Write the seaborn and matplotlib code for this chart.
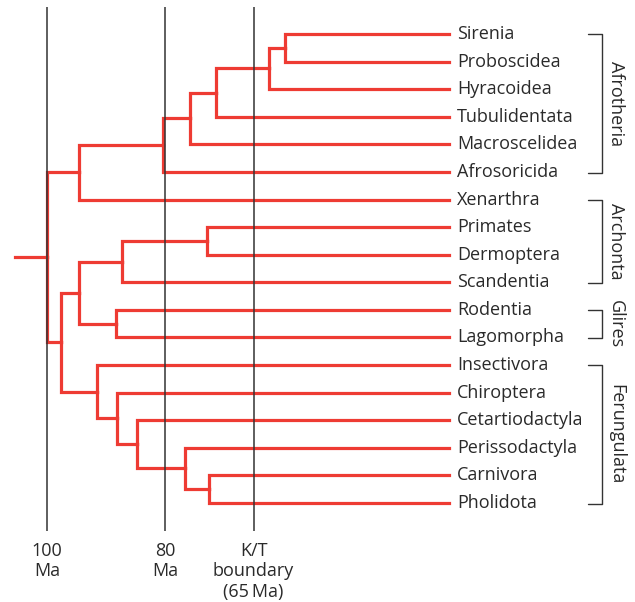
import matplotlib
matplotlib.use("Agg")
import matplotlib.pyplot as plt
import seaborn as sns
import pandas as pd

# Tip taxa, top to bottom
taxa = ['Sirenia', 'Proboscidea', 'Hyracoidea', 'Tubulidentata', 'Macroscelidea',
        'Afrosoricida', 'Xenarthra', 'Primates', 'Dermoptera', 'Scandentia',
        'Rodentia', 'Lagomorpha', 'Insectivora', 'Chiroptera', 'Cetartiodactyla',
        'Perissodactyla', 'Carnivora', 'Pholidota']
tip_age = 31.9      # where the tip branches stop (Ma)
root_stem = 105.4   # start of the root stem (Ma)

# Internal nodes: name, child 1, child 2, age in Ma
node_names = ['sp', 'sph', 'tub', 'mac', 'afrotheria', 'atlantogenata',
              'pd', 'archonta', 'glires', 'euarch',
              'cp', 'per', 'cet', 'chi', 'laur', 'boreo', 'root']
node_child1 = ['Sirenia', 'sp', 'sph', 'tub', 'mac', 'afrotheria',
               'Primates', 'pd', 'Rodentia', 'archonta',
               'Carnivora', 'Perissodactyla', 'Cetartiodactyla', 'Chiroptera',
               'Insectivora', 'euarch', 'atlantogenata']
node_child2 = ['Proboscidea', 'Hyracoidea', 'Tubulidentata', 'Macroscelidea',
               'Afrosoricida', 'Xenarthra',
               'Dermoptera', 'Scandentia', 'Lagomorpha', 'glires',
               'Pholidota', 'cp', 'per', 'cet', 'chi', 'laur', 'boreo']
node_ages = [59.7, 62.4, 71.4, 75.8, 80.3, 94.6,
             72.9, 87.3, 88.3, 94.6,
             72.5, 76.6, 84.7, 88.1, 91.5, 97.6, 100.0]

# Clade brackets
clade_names = ['Afrotheria', 'Archonta', 'Glires', 'Ferungulata']
clade_first = ['Sirenia', 'Xenarthra', 'Rodentia', 'Insectivora']
clade_last = ['Afrosoricida', 'Scandentia', 'Lagomorpha', 'Pholidota']

# Time marks
mark_ages = [100, 80, 65]
mark_labels = ['100\nMa', '80\nMa', 'K/T\nboundary\n(65\u2009Ma)']

red = '#ee3b33'
ink = '#2a2a2a'

# layout of the tree
ypos = {t: i for i, t in enumerate(taxa)}
age = {t: tip_age for t in taxa}
for n, a, b, g in zip(node_names, node_child1, node_child2, node_ages):
    ypos[n] = (ypos[a] + ypos[b]) / 2
    age[n] = g

rows = []
seg = 0
for n, a, b, g in zip(node_names, node_child1, node_child2, node_ages):
    for c in (a, b):
        rows += [(seg, g, ypos[n]), (seg, g, ypos[c]), (seg, age[c], ypos[c])]
        seg += 1
rows += [(seg, root_stem, ypos['root']), (seg, 100.0, ypos['root'])]
df = pd.DataFrame(rows, columns=['seg', 'age', 'y'])

sns.set_style('white')
plt.rcParams['font.family'] = ['Open Sans', 'DejaVu Sans']

fig = plt.figure(figsize=(6.35, 6.02), dpi=100)
ax = fig.add_axes([0, 0, 1, 1])

sns.lineplot(data=df, x='age', y='y', units='seg', estimator=None, sort=False,
             color=red, lw=2.3, solid_capstyle='projecting',
             solid_joinstyle='miter', ax=ax, legend=False)

ax.vlines(mark_ages, -0.98, 18.01, color='#333333', lw=1.1, zorder=5)
for m, lab in zip(mark_ages, mark_labels):
    ax.text(m, 18.4, lab, ha='center', va='top', fontsize=13, color=ink,
            linespacing=1.18)

for t in taxa:
    ax.text(30.55, ypos[t], t, ha='left', va='center', fontsize=13, color=ink)

for name, a, b in zip(clade_names, clade_first, clade_last):
    y0, y1 = ypos[a], ypos[b] + 0.03
    ax.plot([8.3, 5.95, 5.95, 8.3], [y0, y0, y1, y1], color='#333333', lw=1.0)
    ax.text(3.6, (y0 + y1) / 2, name, rotation=-90, ha='center', va='center',
            fontsize=13, color=ink)

ax.set_xlim(107.97, 0.34)
ax.set_ylim(20.59, -1.232)
ax.axis('off')

fig.savefig('out.png', dpi=100)
